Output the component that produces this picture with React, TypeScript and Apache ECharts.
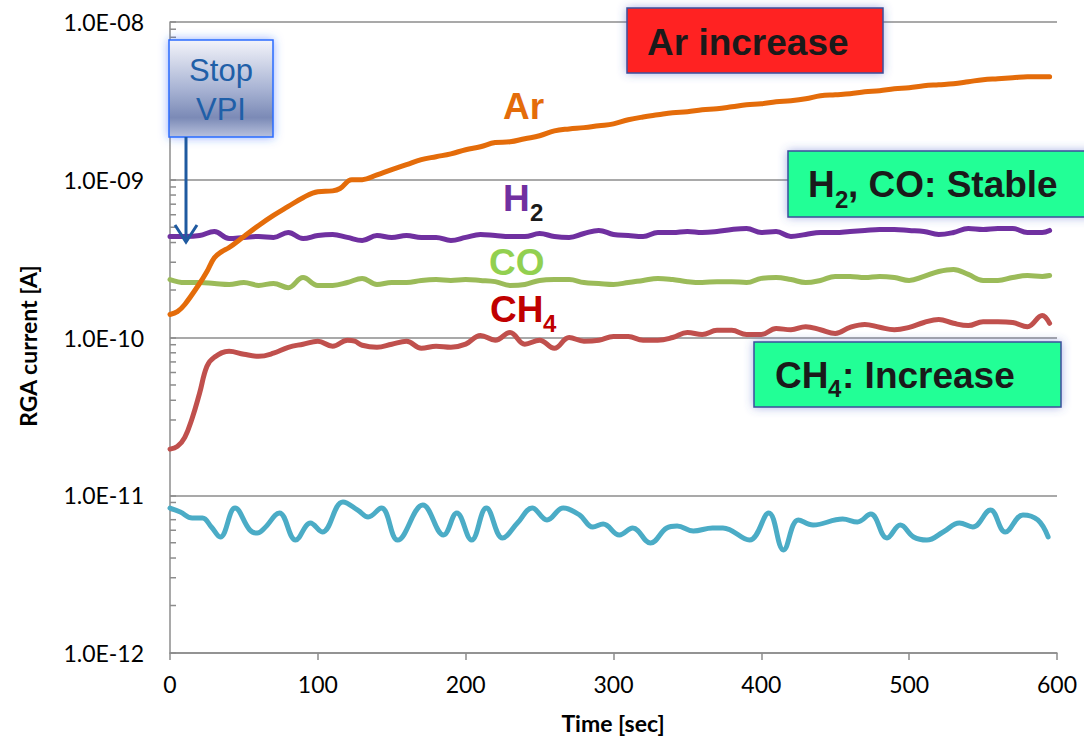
import React, { useEffect, useRef } from "react";
import * as echarts from "echarts";

// ---------- data ----------
const arTime = [0, 5, 10, 20, 25, 30, 35, 40, 50, 60, 70, 80, 90, 100, 110, 115, 123, 130, 140, 150, 160, 170, 180, 190, 200, 210, 220, 230, 240, 250, 260, 270, 280, 290, 300, 310, 320, 330, 340, 350, 360, 370, 380, 390, 400, 410, 420, 430, 440, 450, 460, 470, 480, 490, 500, 510, 520, 530, 540, 550, 560, 570, 580, 590, 595];
const arValues = [1.4e-10, 1.46e-10, 1.62e-10, 2.2e-10, 2.62e-10, 3.2e-10, 3.5e-10, 3.72e-10, 4.37e-10, 5.13e-10, 5.94e-10, 6.77e-10, 7.7e-10, 8.4e-10, 8.5e-10, 8.8e-10, 1.0e-9, 1.0e-9, 1.075e-9, 1.16e-9, 1.245e-9, 1.34e-9, 1.4e-9, 1.46e-9, 1.55e-9, 1.62e-9, 1.72e-9, 1.74e-9, 1.82e-9, 1.9e-9, 2.04e-9, 2.1e-9, 2.14e-9, 2.2e-9, 2.26e-9, 2.4e-9, 2.5e-9, 2.58e-9, 2.66e-9, 2.7e-9, 2.78e-9, 2.82e-9, 2.9e-9, 2.99e-9, 3.03e-9, 3.12e-9, 3.17e-9, 3.26e-9, 3.41e-9, 3.46e-9, 3.51e-9, 3.61e-9, 3.67e-9, 3.78e-9, 3.83e-9, 3.94e-9, 4.0e-9, 4.06e-9, 4.18e-9, 4.31e-9, 4.37e-9, 4.43e-9, 4.5e-9, 4.5e-9, 4.5e-9];

const time10 = [0, 10, 20, 30, 40, 50, 60, 70, 80, 90, 100, 110, 120, 130, 140, 150, 160, 170, 180, 190, 200, 210, 220, 230, 240, 250, 260, 270, 280, 290, 300, 310, 320, 330, 340, 350, 360, 370, 380, 390, 400, 410, 420, 430, 440, 450, 460, 470, 480, 490, 500, 510, 520, 530, 540, 550, 560, 570, 580, 590, 595];
const h2Values = [4.37e-10, 4.37e-10, 4.43e-10, 4.7e-10, 4.24e-10, 4.31e-10, 4.37e-10, 4.31e-10, 4.63e-10, 4.24e-10, 4.43e-10, 4.5e-10, 4.31e-10, 4.12e-10, 4.43e-10, 4.31e-10, 4.43e-10, 4.31e-10, 4.31e-10, 4.12e-10, 4.31e-10, 4.5e-10, 4.43e-10, 4.37e-10, 4.37e-10, 4.56e-10, 4.37e-10, 4.31e-10, 4.56e-10, 4.77e-10, 4.5e-10, 4.43e-10, 4.37e-10, 4.63e-10, 4.63e-10, 4.7e-10, 4.63e-10, 4.7e-10, 4.84e-10, 4.91e-10, 4.63e-10, 4.7e-10, 4.37e-10, 4.5e-10, 4.63e-10, 4.63e-10, 4.7e-10, 4.77e-10, 4.84e-10, 4.84e-10, 4.77e-10, 4.7e-10, 4.5e-10, 4.63e-10, 4.91e-10, 4.84e-10, 4.91e-10, 4.91e-10, 4.63e-10, 4.63e-10, 4.77e-10];
const coValues = [2.33e-10, 2.23e-10, 2.23e-10, 2.2e-10, 2.17e-10, 2.23e-10, 2.14e-10, 2.2e-10, 2.07e-10, 2.4e-10, 2.14e-10, 2.14e-10, 2.23e-10, 2.37e-10, 2.17e-10, 2.23e-10, 2.23e-10, 2.3e-10, 2.33e-10, 2.3e-10, 2.33e-10, 2.3e-10, 2.26e-10, 2.14e-10, 2.17e-10, 2.3e-10, 2.33e-10, 2.33e-10, 2.23e-10, 2.2e-10, 2.17e-10, 2.23e-10, 2.3e-10, 2.37e-10, 2.33e-10, 2.26e-10, 2.23e-10, 2.26e-10, 2.26e-10, 2.23e-10, 2.37e-10, 2.4e-10, 2.33e-10, 2.23e-10, 2.3e-10, 2.44e-10, 2.44e-10, 2.4e-10, 2.44e-10, 2.4e-10, 2.3e-10, 2.44e-10, 2.62e-10, 2.7e-10, 2.51e-10, 2.3e-10, 2.3e-10, 2.4e-10, 2.47e-10, 2.44e-10, 2.47e-10];

const ch4Time = [0, 5, 10, 15, 20, 25, 30, 40, 50, 60, 70, 80, 90, 100, 110, 120, 125, 130, 140, 150, 160, 170, 180, 190, 200, 210, 220, 230, 240, 250, 260, 270, 280, 290, 300, 310, 320, 330, 340, 350, 360, 370, 380, 390, 400, 410, 420, 430, 440, 450, 460, 470, 480, 490, 500, 510, 520, 530, 540, 550, 560, 570, 580, 590, 595];
const ch4Values = [1.96e-11, 2.04e-11, 2.33e-11, 3.08e-11, 4.43e-11, 6.57e-11, 7.5e-11, 8.18e-11, 7.83e-11, 7.6e-11, 7.95e-11, 8.67e-11, 9.07e-11, 9.47e-11, 8.8e-11, 9.61e-11, 9.47e-11, 8.93e-11, 8.67e-11, 9.07e-11, 9.47e-11, 8.54e-11, 8.8e-11, 8.67e-11, 9.07e-11, 1.03e-10, 9.61e-11, 1.075e-10, 9.07e-11, 9.61e-11, 8.54e-11, 1.0e-10, 9.47e-11, 9.61e-11, 1.015e-10, 1.015e-10, 9.61e-11, 9.61e-11, 1.0e-10, 1.075e-10, 1.045e-10, 1.11e-10, 1.11e-10, 1.045e-10, 1.045e-10, 1.14e-10, 1.12e-10, 1.17e-10, 1.12e-10, 1.06e-10, 1.16e-10, 1.21e-10, 1.16e-10, 1.12e-10, 1.16e-10, 1.245e-10, 1.3e-10, 1.23e-10, 1.19e-10, 1.26e-10, 1.26e-10, 1.245e-10, 1.17e-10, 1.38e-10, 1.23e-10];

const baseTime = [0, 7, 15, 22, 28, 34, 44, 54, 59, 64, 74, 85, 95, 103, 117, 127, 134, 143, 154, 171, 185, 194, 204, 214, 225, 235, 245, 255, 266, 277, 286, 293, 304, 313, 325, 336, 343, 354, 367, 374, 392, 405, 415, 425, 435, 455, 465, 474, 485, 494, 503, 512, 523, 534, 543, 555, 565, 577, 587, 594];
const baseValues = [8.3e-12, 7.83e-12, 7.17e-12, 7.17e-12, 6.29e-12, 5.44e-12, 8.3e-12, 6.02e-12, 5.76e-12, 6.2e-12, 7.72e-12, 5.2e-12, 6.67e-12, 5.85e-12, 9.06e-12, 8.06e-12, 7.28e-12, 8.3e-12, 5.2e-12, 8.67e-12, 5.6e-12, 7.72e-12, 5.2e-12, 8.3e-12, 5.36e-12, 6.67e-12, 8.3e-12, 6.97e-12, 8.3e-12, 7.5e-12, 6.29e-12, 6.57e-12, 5.6e-12, 6.2e-12, 4.98e-12, 6.2e-12, 6.38e-12, 5.93e-12, 6.2e-12, 6.2e-12, 5.2e-12, 7.72e-12, 4.5e-12, 6.97e-12, 6.48e-12, 7.07e-12, 6.77e-12, 7.6e-12, 5.36e-12, 6.48e-12, 5.44e-12, 5.2e-12, 5.85e-12, 6.67e-12, 6.29e-12, 8.06e-12, 5.85e-12, 7.5e-12, 6.97e-12, 5.44e-12];

const xTicks = [0, 100, 200, 300, 400, 500, 600];
const yTickExponents = [-12, -11, -10, -9, -8];
const yTickLabels = ["1.0E-12", "1.0E-11", "1.0E-10", "1.0E-09", "1.0E-08"];
const minorMantissas = [2, 3, 4, 5, 6, 7, 8, 9];
const minorDecades = [1e-12, 1e-11, 1e-10, 1e-9];

const zip = (t: number[], v: number[]) => t.map((x, i) => [x, v[i]]);

const AXIS_GRAY = "#8c8c8c";
const BOLD = (s: number) => `bold ${s}px "Liberation Sans", Arial, sans-serif`;

function txt(text: string, x: number, y: number, font: string, fill: string, align = "left") {
  return {
    type: "text",
    x,
    y,
    z: 110,
    style: { text, font, fill, align, verticalAlign: "middle", textAlign: align, textVerticalAlign: "middle" },
  };
}

export default function App() {
  const ref = useRef<HTMLDivElement>(null);

  useEffect(() => {
    if (!ref.current) return;
    const chart = echarts.init(ref.current, null, { renderer: "svg" });

    const minorTicks: number[][] = [];
    minorDecades.forEach((d) => minorMantissas.forEach((m) => minorTicks.push([0, m * d])));

    const boxShadow = { shadowBlur: 10, shadowColor: "rgba(70,90,200,0.45)" };

    const lineSeries = (name: string, data: number[][], color: string) => ({
      name,
      type: "line",
      data,
      showSymbol: false,
      smooth: 0.4,
      z: 3,
      lineStyle: { color, width: 5, cap: "round", join: "round" },
    });

    const option: any = {
      animation: false,
      grid: { left: 170, right: 27, top: 22, bottom: 85, containLabel: false },
      xAxis: {
        type: "value",
        min: xTicks[0],
        max: xTicks[xTicks.length - 1],
        interval: 100,
        axisLine: { show: true, lineStyle: { color: AXIS_GRAY, width: 1.5 } },
        axisTick: { show: true, inside: false, length: 7, lineStyle: { color: AXIS_GRAY, width: 1.5 } },
        axisLabel: { color: "#000", fontFamily: "Lato", fontSize: 23, margin: 19 },
        splitLine: { show: false },
      },
      yAxis: {
        type: "log",
        logBase: 10,
        min: Math.pow(10, yTickExponents[0]),
        max: Math.pow(10, yTickExponents[yTickExponents.length - 1]),
        axisLine: { show: true, lineStyle: { color: AXIS_GRAY, width: 1.5 } },
        axisTick: { show: true, inside: true, length: 6, lineStyle: { color: AXIS_GRAY, width: 1.5 } },
        axisLabel: {
          color: "#000",
          fontFamily: "Lato",
          fontSize: 23,
          margin: 26,
          formatter: (v: number) => {
            const e = Math.round(Math.log10(v));
            const i = yTickExponents.indexOf(e);
            return i >= 0 ? yTickLabels[i] : "";
          },
        },
        splitLine: { show: true, lineStyle: { color: AXIS_GRAY, width: 1.5 } },
      },
      series: [
        {
          type: "custom",
          coordinateSystem: "cartesian2d",
          data: minorTicks,
          silent: true,
          clip: false,
          z: 2,
          renderItem: (params: any, api: any) => {
            const p = api.coord([0, api.value(1)]);
            return {
              type: "line",
              shape: { x1: p[0], y1: p[1], x2: p[0] + 6, y2: p[1] },
              style: { stroke: AXIS_GRAY, lineWidth: 1.5 },
            };
          },
        },
        lineSeries("Base", zip(baseTime, baseValues), "#4bacc6"),
        lineSeries("CO", zip(time10, coValues), "#9bbb59"),
        lineSeries("H2", zip(time10, h2Values), "#7030a0"),
        lineSeries("CH4", zip(ch4Time, ch4Values), "#c0504d"),
        lineSeries("Ar", zip(arTime, arValues), "#e46c0a"),
      ],
      graphic: [
        // axis titles
        {
          type: "text",
          x: 28,
          y: 346,
          rotation: Math.PI / 2,
          z: 110,
          style: {
            text: "RGA current [A]",
            font: 'bold 23px Lato, sans-serif',
            fill: "#000",
            align: "center",
            verticalAlign: "middle",
            textAlign: "center",
            textVerticalAlign: "middle",
          },
        },
        txt("Time [sec]", 613, 723, 'bold 23px Lato, sans-serif', "#000", "center"),
        // Stop VPI box and arrow
        {
          type: "rect",
          z: 100,
          shape: { x: 169, y: 40, width: 104, height: 97 },
          style: {
            fill: new echarts.graphic.LinearGradient(0, 0, 0, 1, [
              { offset: 0, color: "#f3f4fa" },
              { offset: 0.5, color: "#a9b4d4" },
              { offset: 0.8, color: "#7b8ab6" },
              { offset: 1, color: "#b8c1dd" },
            ]),
            stroke: "#2a6cff",
            lineWidth: 1.5,
            shadowBlur: 10,
            shadowColor: "rgba(40,100,255,0.5)",
          },
        },
        txt("Stop", 221, 70, '31px "Liberation Sans", Arial, sans-serif', "#1f5fa8", "center"),
        txt("VPI", 221, 109, '31px "Liberation Sans", Arial, sans-serif', "#1f5fa8", "center"),
        {
          type: "line",
          z: 100,
          shape: { x1: 186, y1: 137, x2: 186, y2: 242 },
          style: { stroke: "#1f5aa0", lineWidth: 3 },
        },
        {
          type: "polyline",
          z: 100,
          shape: { points: [[175, 225], [186, 242], [197, 225]] },
          style: { stroke: "#1f5aa0", lineWidth: 3, fill: null },
        },
        // Ar increase box
        {
          type: "rect",
          z: 100,
          shape: { x: 627, y: 8, width: 256, height: 65 },
          style: { fill: "#ff2424", stroke: "#3c4f9c", lineWidth: 1.5, ...boxShadow },
        },
        txt("Ar increase", 647, 42, BOLD(37), "#1a1a1a"),
        // H2, CO: Stable box
        {
          type: "rect",
          z: 100,
          shape: { x: 788, y: 151, width: 320, height: 66 },
          style: { fill: "#22ff96", stroke: "#3c4f9c", lineWidth: 1.5, ...boxShadow },
        },
        txt("H", 808, 184, BOLD(37), "#1a1a1a"),
        txt("2", 835, 199, BOLD(24), "#1a1a1a"),
        txt(", CO: Stable", 848, 184, BOLD(37), "#1a1a1a"),
        // CH4: Increase box
        {
          type: "rect",
          z: 100,
          shape: { x: 754, y: 342, width: 307, height: 65 },
          style: { fill: "#22ff96", stroke: "#3c4f9c", lineWidth: 1.5, ...boxShadow },
        },
        txt("CH", 775, 375, BOLD(37), "#1a1a1a"),
        txt("4", 828, 388, BOLD(24), "#1a1a1a"),
        txt(": Increase", 842, 375, BOLD(37), "#1a1a1a"),
        // series labels
        txt("Ar", 503, 106, BOLD(37), "#e46c0a"),
        txt("H", 503, 198, BOLD(37), "#7030a0"),
        txt("2", 530, 212, BOLD(24), "#1a1a1a"),
        txt("CO", 489, 262, BOLD(37), "#92d050"),
        txt("CH", 490, 309, BOLD(37), "#c00000"),
        txt("4", 543, 323, BOLD(24), "#c00000"),
      ],
    };

    chart.setOption(option);
    return () => chart.dispose();
  }, []);

  return (
    <div
      ref={ref}
      style={{ position: "absolute", left: 0, top: 0, width: 1084, height: 738, background: "#fff" }}
    />
  );
}
